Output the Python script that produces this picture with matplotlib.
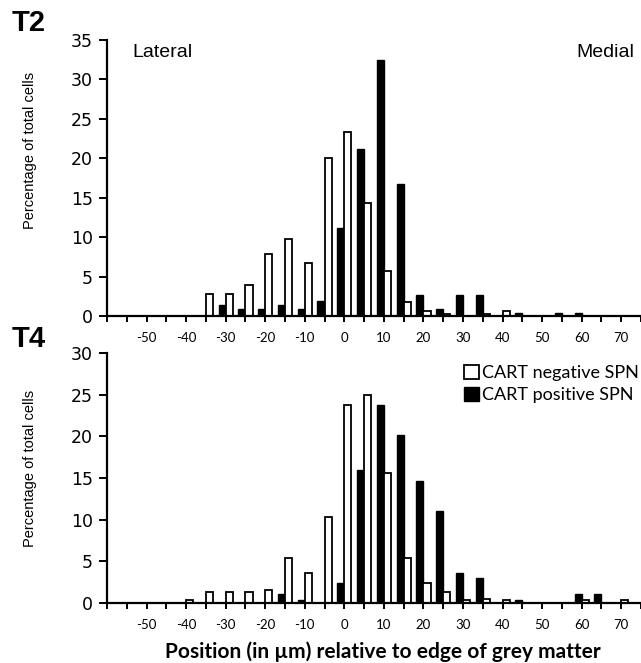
import matplotlib
matplotlib.use('Agg')
import matplotlib.pyplot as plt
import numpy as np

# bin positions (µm) and percentages
bins = [-60, -55, -50, -45, -40, -35, -30, -25, -20, -15, -10, -5, 0, 5,
        10, 15, 20, 25, 30, 35, 40, 45, 50, 55, 60, 65, 70]

t2_negative = [0, 0, 0, 0, 0, 2.8, 2.8, 3.9, 7.8, 9.8, 6.7, 20.0, 23.3, 14.3,
               5.7, 1.8, 0.6, 0.3, 0, 0.3, 0.6, 0, 0, 0, 0, 0, 0]
t2_positive = [0, 0, 0, 0, 0, 0, 1.4, 0.9, 0.9, 1.4, 0.9, 1.9, 11.2, 21.2,
               32.4, 16.7, 2.7, 0.9, 2.7, 2.7, 0, 0.4, 0, 0.4, 0.4, 0, 0]

t4_negative = [0, 0, 0, 0, 0.4, 1.3, 1.3, 1.3, 1.6, 5.4, 3.6, 10.3, 23.8, 24.9,
               15.6, 5.4, 2.4, 1.3, 0.4, 0.5, 0.4, 0, 0, 0, 0.4, 0, 0.4]
t4_positive = [0, 0, 0, 0, 0, 0, 0, 0, 0, 1.1, 0.4, 0, 2.4, 15.9,
               23.7, 20.1, 14.6, 11.0, 3.6, 3.0, 0, 0.4, 0, 0, 1.1, 1.1, 0]

xtick_pos = np.arange(-60, 76, 5)
xtick_labels = [str(v) if (v % 10 == 0 and -50 <= v <= 70) else '' for v in xtick_pos]

calibri_like = ['Lato', 'DejaVu Sans']
arial_like = ['Liberation Sans', 'DejaVu Sans']

fig = plt.figure(figsize=(6.41, 6.63), dpi=100)
ax1 = fig.add_axes([0.1669, 0.5234, 0.8331, 0.4163])
ax2 = fig.add_axes([0.1669, 0.0905, 0.8331, 0.3771])

bar_w = 1.8


def draw_panel(ax, neg, pos, ymax):
    ax.bar(bins, pos, width=-bar_w, align='edge', color='black',
           edgecolor='black', linewidth=1.0, label='CART positive SPN', zorder=2)
    ax.bar(bins, neg, width=bar_w, align='edge', facecolor='white',
           edgecolor='black', linewidth=1.3, label='CART negative SPN', zorder=3)
    ax.set_xlim(-60, 74.5)
    ax.set_ylim(0, ymax)
    ax.set_yticks(np.arange(0, ymax + 1, 5))
    ax.set_xticks(xtick_pos)
    ax.set_xticklabels(xtick_labels, family=calibri_like, fontsize=9.5)
    for lbl in ax.get_yticklabels():
        lbl.set_family(['DejaVu Sans'])
        lbl.set_fontsize(12.5)
    for side in ['top', 'right']:
        ax.spines[side].set_visible(False)
    for side in ['left', 'bottom']:
        ax.spines[side].set_linewidth(1.6)
        ax.spines[side].set_zorder(5)
    ax.tick_params(axis='x', direction='out', length=4.5, width=1.4, pad=7)
    ax.tick_params(axis='y', direction='out', length=6, width=1.4, pad=4)
    ax.set_ylabel('Percentage of total cells', family=arial_like, fontsize=10.5)


draw_panel(ax1, t2_negative, t2_positive, 35)
draw_panel(ax2, t4_negative, t4_positive, 30)

ax1.yaxis.set_label_coords(-0.131, 0.60)
ax2.yaxis.set_label_coords(-0.131, 0.54)

ax1.text(0.048, 0.955, 'Lateral', transform=ax1.transAxes, family=arial_like,
         fontsize=14, va='center', ha='left')
ax1.text(0.988, 0.955, 'Medial', transform=ax1.transAxes, family=arial_like,
         fontsize=14, va='center', ha='right')

fig.text(0.018, 0.966, 'T2', family=arial_like, fontsize=21, fontweight='bold',
         va='center', ha='left')
fig.text(0.018, 0.489, 'T4', family=arial_like, fontsize=21, fontweight='bold',
         va='center', ha='left')

handles, labels = ax2.get_legend_handles_labels()
ax2.legend(handles[::-1], labels[::-1], loc='upper right',
           bbox_to_anchor=(1.01, 0.98), frameon=False,
           prop={'family': calibri_like, 'size': 13},
           handlelength=0.8, handleheight=0.8, handletextpad=0.2,
           labelspacing=0.3, borderaxespad=0)

ax2.set_xlabel('Position (in µm) relative to edge of grey matter',
               family=calibri_like, fontsize=15, fontweight='bold')
ax2.xaxis.set_label_coords(0.517, -0.152)

fig.savefig('out.png', dpi=100)
